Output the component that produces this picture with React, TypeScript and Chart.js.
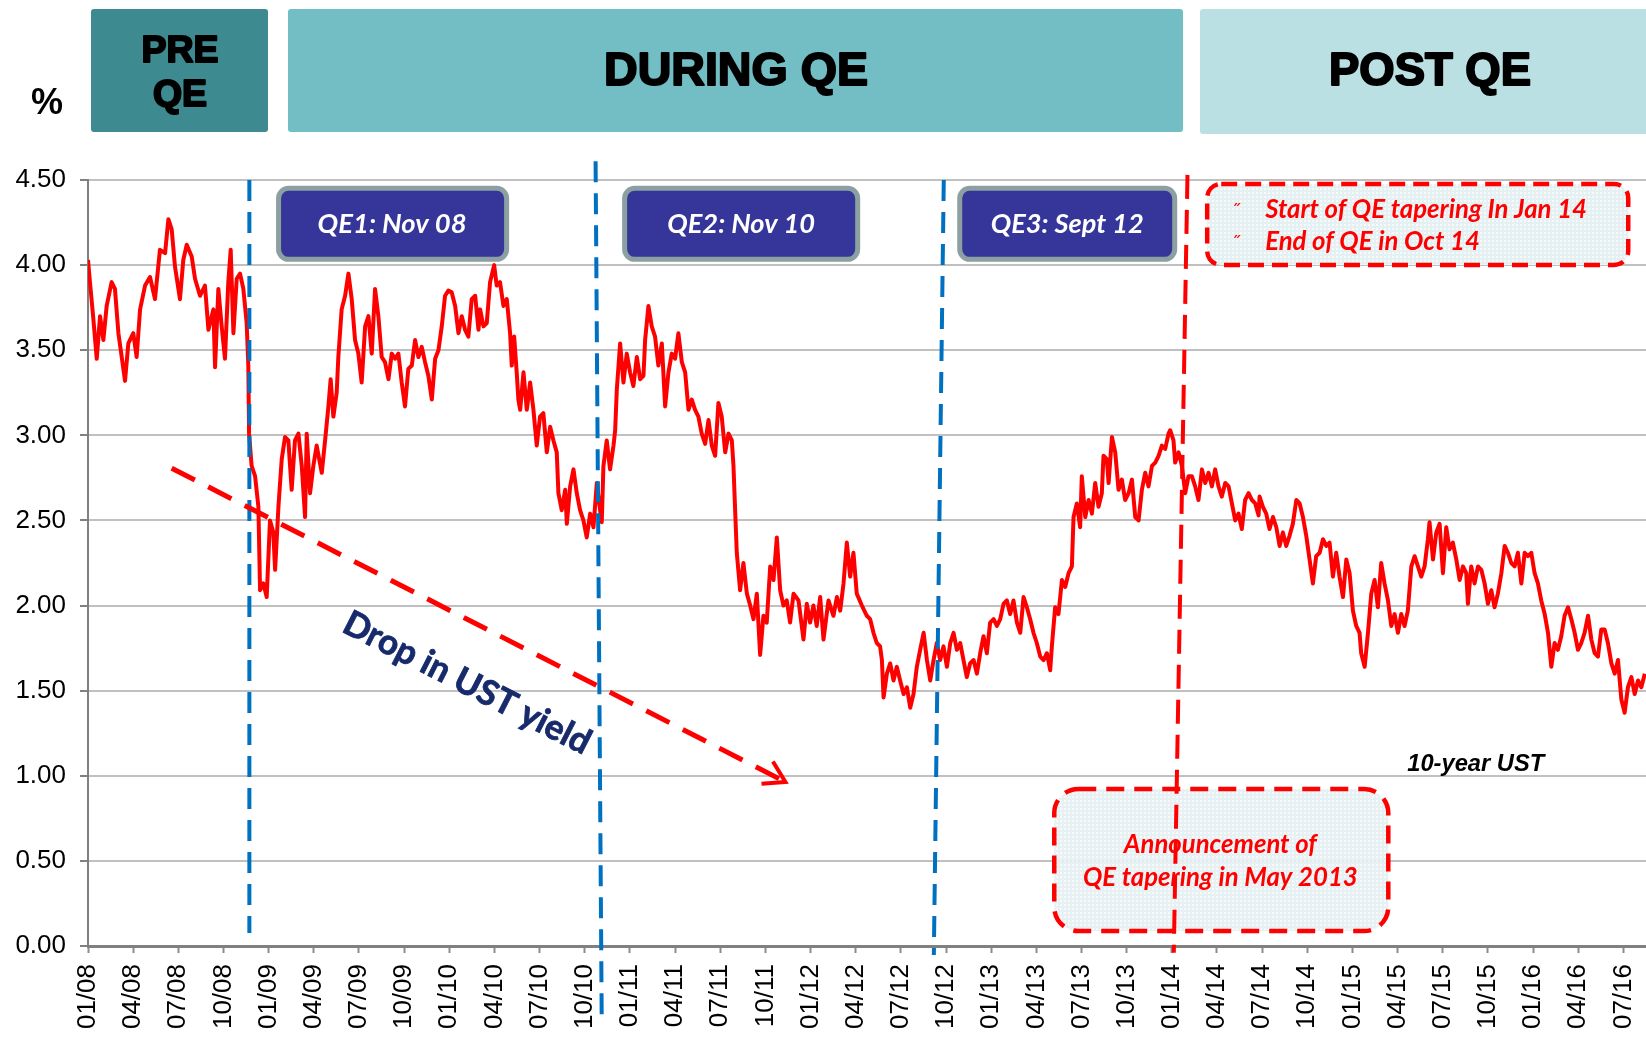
import { useEffect, useRef } from 'react';
import { Chart, registerables } from 'chart.js';

Chart.register(...registerables);

// ---------- data ----------
// x = months since Jan 2008, y = 10-year UST yield (%)
const ustJan08Feb10: number[][] = [
  [0.00,4.03],[0.13,3.90],[0.35,3.69],[0.58,3.45],[0.80,3.70],[1.02,3.56],[1.24,3.76],[1.57,3.90],[1.79,3.86],[2.02,3.60],
  [2.24,3.46],[2.46,3.32],[2.68,3.54],[3.01,3.60],[3.23,3.46],[3.46,3.74],[3.79,3.88],[4.12,3.93],[4.45,3.80],[4.78,4.09],
  [5.12,4.07],[5.34,4.27],[5.56,4.21],[5.78,3.99],[6.11,3.80],[6.33,4.03],[6.56,4.12],[6.89,4.05],[7.11,3.92],[7.44,3.82],
  [7.77,3.88],[8.00,3.62],[8.33,3.74],[8.44,3.40],[8.66,3.86],[8.88,3.64],[9.10,3.45],[9.32,3.90],[9.48,4.09],[9.66,3.60],
  [9.88,3.92],[10.10,3.95],[10.32,3.86],[10.54,3.66],[10.65,3.41],[10.70,3.01],[10.87,2.82],[11.10,2.76],[11.32,2.58],[11.43,2.09],
  [11.65,2.13],[11.87,2.05],[12.09,2.50],[12.31,2.43],[12.43,2.21],[12.65,2.58],[12.87,2.86],[13.09,2.99],[13.31,2.97],[13.53,2.68],
  [13.75,2.97],[13.98,3.01],[14.20,2.82],[14.42,2.52],[14.53,3.01],[14.75,2.66],[14.97,2.82],[15.19,2.94],[15.53,2.78],[15.75,2.97],
  [15.97,3.17],[16.12,3.33],[16.30,3.11],[16.52,3.25],[16.63,3.46],[16.85,3.74],[17.08,3.82],[17.30,3.95],[17.52,3.80],[17.74,3.56],
  [17.96,3.48],[18.18,3.31],[18.41,3.64],[18.63,3.70],[18.85,3.48],[19.07,3.86],[19.29,3.70],[19.51,3.46],[19.73,3.43],[19.96,3.33],
  [20.18,3.48],[20.40,3.45],[20.62,3.48],[20.84,3.31],[21.06,3.17],[21.28,3.39],[21.51,3.41],[21.73,3.56],[21.95,3.46],[22.17,3.52],
  [22.39,3.43],[22.61,3.35],[22.84,3.21],[23.06,3.45],[23.28,3.50],[23.50,3.64],[23.72,3.82],[23.94,3.85],[24.16,3.84],[24.39,3.76],
  [24.61,3.60],[24.83,3.70],[25.05,3.62],[25.27,3.58],[25.49,3.80],[25.72,3.82],[25.94,3.62],
];

const ustMar10Apr12: number[][] = [
  [26.05,3.74],[26.27,3.64],[26.49,3.66],[26.71,3.90],[26.98,4.00],[27.15,3.88],[27.37,3.90],[27.60,3.76],[27.82,3.80],[28.04,3.60],
  [28.15,3.41],[28.31,3.58],[28.48,3.37],[28.59,3.21],[28.71,3.15],[28.93,3.37],[29.15,3.15],[29.37,3.31],[29.59,3.15],[29.81,2.94],
  [30.03,3.11],[30.25,3.13],[30.48,2.90],[30.70,3.05],[30.92,2.97],[31.14,2.90],[31.25,2.66],[31.47,2.56],[31.70,2.68],[31.81,2.48],
  [32.03,2.70],[32.25,2.80],[32.47,2.66],[32.69,2.56],[32.91,2.50],[33.13,2.40],[33.36,2.54],[33.58,2.46],[33.80,2.72],[34.02,2.56],
  [34.13,2.49],[34.24,2.82],[34.46,2.97],[34.68,2.80],[34.91,2.94],[35.02,3.03],[35.13,3.27],[35.35,3.54],[35.57,3.31],[35.79,3.48],
  [36.01,3.37],[36.23,3.29],[36.46,3.46],[36.68,3.33],[36.90,3.35],[37.01,3.56],[37.23,3.76],[37.45,3.64],[37.67,3.58],[37.89,3.41],
  [38.12,3.54],[38.34,3.17],[38.56,3.37],[38.78,3.48],[39.00,3.45],[39.22,3.60],[39.45,3.43],[39.67,3.37],[39.89,3.15],[40.11,3.21],
  [40.33,3.15],[40.55,3.11],[40.77,3.01],[41.00,2.95],[41.22,3.09],[41.44,2.94],[41.66,2.88],[41.88,3.19],[42.10,3.11],[42.33,2.90],
  [42.55,3.01],[42.77,2.97],[42.88,2.82],[42.99,2.56],[43.10,2.31],[43.32,2.09],[43.54,2.25],[43.77,2.07],[43.99,2.00],[44.21,1.92],
  [44.43,2.07],[44.65,1.71],[44.87,1.94],[45.09,1.90],[45.32,2.23],[45.54,2.15],[45.76,2.40],[45.98,2.09],[46.20,2.00],[46.42,2.03],
  [46.64,1.90],[46.87,2.07],[47.20,2.03],[47.53,1.80],[47.75,2.01],[47.97,1.90],[48.19,2.00],[48.41,1.88],[48.64,2.05],[48.86,1.80],
  [49.19,2.03],[49.52,1.94],[49.75,2.05],[49.97,1.97],[50.19,2.13],[50.41,2.37],[50.63,2.17],[50.85,2.31],[51.07,2.07],[51.41,2.00],
  [51.74,1.94],
];

const ustMay12Jun14: number[][] = [
  [51.96,1.92],[52.18,1.84],[52.40,1.78],[52.62,1.76],[52.74,1.68],[52.85,1.46],[53.07,1.60],[53.29,1.66],[53.51,1.56],[53.73,1.64],
  [53.95,1.56],[54.18,1.48],[54.40,1.52],[54.62,1.40],[54.84,1.48],[55.06,1.64],[55.28,1.74],[55.51,1.84],[55.73,1.68],[55.95,1.56],
  [56.17,1.68],[56.39,1.78],[56.61,1.68],[56.83,1.76],[57.06,1.64],[57.28,1.78],[57.50,1.84],[57.72,1.74],[57.94,1.78],[58.16,1.68],
  [58.38,1.58],[58.60,1.66],[58.83,1.68],[59.05,1.60],[59.27,1.72],[59.49,1.82],[59.71,1.72],[59.93,1.90],[60.16,1.92],[60.38,1.88],
  [60.60,1.92],[60.82,2.01],[61.04,2.03],[61.26,1.95],[61.48,2.03],[61.71,1.90],[61.93,1.84],[62.15,2.05],[62.37,1.99],[62.59,1.92],
  [62.81,1.84],[63.03,1.78],[63.26,1.70],[63.48,1.68],[63.70,1.72],[63.92,1.62],[64.03,1.76],[64.25,1.99],[64.47,1.95],[64.70,2.15],
  [64.92,2.11],[65.14,2.19],[65.36,2.23],[65.47,2.52],[65.69,2.60],[65.91,2.46],[66.02,2.76],[66.25,2.52],[66.47,2.62],[66.69,2.54],
  [66.91,2.72],[67.13,2.58],[67.35,2.66],[67.46,2.88],[67.68,2.86],[67.80,2.72],[68.02,2.99],[68.24,2.90],[68.46,2.68],[68.68,2.74],
  [68.90,2.62],[69.13,2.66],[69.35,2.74],[69.57,2.52],[69.79,2.50],[70.01,2.68],[70.23,2.78],[70.45,2.70],[70.68,2.82],[70.90,2.84],
  [71.12,2.88],[71.34,2.94],[71.56,2.92],[71.78,3.01],[71.89,3.03],[72.11,2.97],[72.22,2.84],[72.45,2.90],[72.67,2.82],[72.89,2.66],
  [73.11,2.76],[73.33,2.76],[73.55,2.70],[73.77,2.62],[74.00,2.80],[74.22,2.72],[74.44,2.78],[74.66,2.70],[74.88,2.80],[75.10,2.70],
  [75.32,2.64],[75.55,2.72],[75.77,2.70],[75.99,2.60],[76.21,2.50],[76.43,2.54],[76.65,2.45],[76.87,2.62],[77.10,2.66],[77.32,2.62],
  [77.54,2.60],[77.76,2.53],
];

const ustJun14Aug16: number[][] = [
  [77.83,2.64],[78.05,2.58],[78.27,2.54],[78.49,2.45],[78.72,2.52],[78.94,2.46],[79.16,2.35],[79.38,2.43],[79.60,2.35],[79.82,2.41],
  [80.04,2.48],[80.27,2.62],[80.49,2.60],[80.71,2.52],[80.93,2.41],[81.15,2.27],[81.37,2.13],[81.59,2.29],[81.82,2.31],[82.04,2.39],
  [82.26,2.35],[82.48,2.37],[82.70,2.17],[82.92,2.31],[83.14,2.17],[83.37,2.05],[83.59,2.27],[83.81,2.19],[84.03,1.97],[84.25,1.88],
  [84.47,1.84],[84.58,1.72],[84.81,1.64],[85.03,1.84],[85.25,2.07],[85.47,2.15],[85.69,1.99],[85.91,2.25],[86.13,2.13],[86.36,2.03],
  [86.58,1.88],[86.80,1.95],[87.02,1.84],[87.24,1.95],[87.46,1.88],[87.68,1.97],[87.91,2.23],[88.13,2.29],[88.35,2.23],[88.57,2.17],
  [88.79,2.23],[89.01,2.39],[89.12,2.49],[89.35,2.27],[89.57,2.43],[89.79,2.48],[90.01,2.19],[90.23,2.46],[90.45,2.33],[90.67,2.37],
  [90.90,2.27],[91.12,2.15],[91.34,2.23],[91.56,2.19],[91.67,2.01],[91.89,2.23],[92.11,2.13],[92.34,2.23],[92.56,2.21],[92.78,2.13],
  [93.00,2.01],[93.22,2.09],[93.44,1.99],[93.66,2.07],[93.89,2.19],[94.11,2.35],[94.33,2.31],[94.55,2.25],[94.77,2.23],[94.99,2.31],
  [95.22,2.13],[95.44,2.31],[95.66,2.29],[95.88,2.31],[96.10,2.19],[96.32,2.13],[96.54,2.03],[96.77,1.95],[96.99,1.84],[97.21,1.64],
  [97.43,1.78],[97.65,1.74],[97.87,1.82],[98.09,1.94],[98.32,1.99],[98.54,1.92],[98.76,1.84],[98.98,1.74],[99.20,1.78],[99.42,1.84],
  [99.65,1.94],[99.87,1.80],[100.09,1.72],[100.31,1.70],[100.53,1.86],[100.75,1.86],[100.97,1.78],[101.20,1.66],[101.42,1.60],[101.64,1.68],
  [101.86,1.45],[102.08,1.37],[102.30,1.52],[102.53,1.58],[102.75,1.48],[102.97,1.56],[103.19,1.52],[103.42,1.60],
];

const xTickLabels = [
  '01/08','04/08','07/08','10/08','01/09','04/09','07/09','10/09','01/10','04/10','07/10','10/10',
  '01/11','04/11','07/11','10/11','01/12','04/12','07/12','10/12','01/13','04/13','07/13','10/13',
  '01/14','04/14','07/14','10/14','01/15','04/15','07/15','10/15','01/16','04/16','07/16',
];

const phaseTitles = [['PRE', 'QE'], ['DURING QE'], ['POST QE']];
const qeLabels = ['QE1: Nov 08', 'QE2: Nov 10', 'QE3: Sept 12'];
const taperNotes = ['Start of QE tapering In Jan 14', 'End of QE in Oct 14'];
const announceNotes = ['Announcement of', 'QE tapering in May 2013'];
const seriesName = '10-year UST';
const dropLabel = 'Drop in UST yield';

// ---------- annotation geometry (data units: months, %) ----------
const qeLines = [
  { top: [10.72, 4.5], bottom: [10.72, 0.076] },
  { top: [33.72, 4.61], bottom: [34.13, -0.464] },
  { top: [56.85, 4.5], bottom: [56.19, -0.053] },
];
const qeBoxes = [
  { m1: 12.66, m2: 27.81, textM: 20.2, width: 149 },
  { m1: 35.65, m2: 51.13, textM: 43.39, width: 148 },
  { m1: 57.91, m2: 72.19, textM: 65.05, width: 153 },
];
const qeBoxTop = 4.451, qeBoxBottom = 4.034, qeTextBase = 4.189;
const taperLine = { top: [73.04, 4.53], bottom: [72.13, -0.04] };
const arrow = { from: [5.56, 2.807], to: [46.33, 0.964] };
const dropText = { m: 25.18, v: 1.545, width: 273 };
const taperBox = { m1: 74.35, m2: 102.32, vTop: 4.477, vBot: 4.001, textM: 78.2, bulletM: 76.0, base: [4.277, 4.089], width: 322 };
const announceBox = { m1: 64.19, m2: 86.38, vTop: 0.922, vBot: 0.088, textM: 75.22, base: [0.546, 0.353], width: 275 };
const seriesLabel = { m: 87.64, v: 1.028, width: 137 };

const SANS = "'Liberation Sans', Arial, sans-serif";
const CAL = "Lato, 'Open Sans', sans-serif";

function rr(ctx: CanvasRenderingContext2D, x: number, y: number, w: number, h: number, r: number) {
  ctx.beginPath();
  ctx.moveTo(x + r, y);
  ctx.lineTo(x + w - r, y);
  ctx.arcTo(x + w, y, x + w, y + r, r);
  ctx.lineTo(x + w, y + h - r);
  ctx.arcTo(x + w, y + h, x + w - r, y + h, r);
  ctx.lineTo(x + r, y + h);
  ctx.arcTo(x, y + h, x, y + h - r, r);
  ctx.lineTo(x, y + r);
  ctx.arcTo(x, y, x + r, y, r);
  ctx.closePath();
}

function fitFont(ctx: CanvasRenderingContext2D, text: string, prefix: string, family: string, target: number) {
  ctx.font = `${prefix} 40px ${family}`;
  const w = ctx.measureText(text).width || 1;
  const size = (40 * target) / w;
  ctx.font = `${prefix} ${size}px ${family}`;
  return size;
}

function dotPattern(ctx: CanvasRenderingContext2D) {
  const c = document.createElement('canvas');
  c.width = 4; c.height = 4;
  const g = c.getContext('2d')!;
  g.fillStyle = '#E4F0F2';
  g.fillRect(0, 0, 4, 4);
  g.fillStyle = '#F6FAFB';
  g.fillRect(0, 0, 2, 2);
  return ctx.createPattern(c, 'repeat') || '#EAF4F5';
}

const overlayPlugin = {
  id: 'qeOverlay',
  beforeDraw(chart: any) {
    const ctx: CanvasRenderingContext2D = chart.ctx;
    ctx.save();
    ctx.fillStyle = '#ffffff';
    ctx.fillRect(0, 0, chart.width, chart.height);
    ctx.restore();
  },
  afterDatasetsDraw(chart: any) {
    const ctx: CanvasRenderingContext2D = chart.ctx;
    const xs = chart.scales.x, ys = chart.scales.y;
    const px = (m: number) => xs.getPixelForValue(m);
    const py = (v: number) => ys.getPixelForValue(v);
    ctx.save();

    // blue QE lines
    ctx.strokeStyle = '#0070C0';
    ctx.lineWidth = 4;
    ctx.setLineDash([21, 11]);
    qeLines.forEach((l) => {
      ctx.beginPath();
      ctx.moveTo(px(l.top[0]), py(l.top[1]));
      ctx.lineTo(px(l.bottom[0]), py(l.bottom[1]));
      ctx.stroke();
    });

    // red dashed arrow
    const ax1 = px(arrow.from[0]), ay1 = py(arrow.from[1]);
    const ax2 = px(arrow.to[0]), ay2 = py(arrow.to[1]);
    const th = Math.atan2(ay2 - ay1, ax2 - ax1);
    ctx.strokeStyle = '#FF0000';
    ctx.lineWidth = 5;
    ctx.setLineDash([26, 15]);
    ctx.beginPath();
    ctx.moveTo(ax1, ay1);
    ctx.lineTo(ax2 - 4 * Math.cos(th), ay2 - 4 * Math.sin(th));
    ctx.stroke();
    ctx.setLineDash([]);
    ctx.lineWidth = 4;
    ctx.beginPath();
    ctx.moveTo(ax2 - 24 * Math.cos(th - 0.55), ay2 - 24 * Math.sin(th - 0.55));
    ctx.lineTo(ax2, ay2);
    ctx.lineTo(ax2 - 24 * Math.cos(th + 0.55), ay2 - 24 * Math.sin(th + 0.55));
    ctx.stroke();

    // drop text
    ctx.save();
    ctx.translate(px(dropText.m), py(dropText.v));
    ctx.rotate(th);
    ctx.fillStyle = '#172A6B';
    ctx.strokeStyle = '#172A6B';
    ctx.lineWidth = 0.8;
    ctx.textAlign = 'center';
    ctx.textBaseline = 'middle';
    fitFont(ctx, dropLabel, 'bold', CAL, dropText.width);
    ctx.fillText(dropLabel, 0, 0);
    ctx.strokeText(dropLabel, 0, 0);
    ctx.restore();

    // QE boxes
    qeBoxes.forEach((b, i) => {
      const x1 = px(b.m1), x2 = px(b.m2), y1 = py(qeBoxTop), y2 = py(qeBoxBottom);
      rr(ctx, x1, y1, x2 - x1, y2 - y1, 10);
      ctx.fillStyle = '#35359A';
      ctx.fill();
      ctx.lineWidth = 5;
      ctx.strokeStyle = '#8C9FA1';
      ctx.stroke();
      ctx.fillStyle = '#FFFFFF';
      ctx.textAlign = 'center';
      ctx.textBaseline = 'alphabetic';
      fitFont(ctx, qeLabels[i], 'italic bold', CAL, b.width);
      ctx.fillText(qeLabels[i], px(b.textM), py(qeTextBase));
    });

    const pat = dotPattern(ctx);

    // taper box (top right)
    {
      const b = taperBox;
      const x1 = px(b.m1), x2 = px(b.m2), y1 = py(b.vTop), y2 = py(b.vBot);
      rr(ctx, x1, y1, x2 - x1, y2 - y1, 14);
      ctx.fillStyle = pat as any;
      ctx.fill();
      ctx.setLineDash([16, 8]);
      ctx.lineWidth = 4.5;
      ctx.strokeStyle = '#FF0000';
      ctx.stroke();
      ctx.setLineDash([]);
      ctx.fillStyle = '#FF0000';
      ctx.textAlign = 'left';
      ctx.textBaseline = 'alphabetic';
      const size = fitFont(ctx, taperNotes[0], 'italic bold', CAL, b.width);
      taperNotes.forEach((t, i) => {
        ctx.font = `italic bold ${size}px ${CAL}`;
        ctx.fillText(t, px(b.textM), py(b.base[i]));
        ctx.font = `${size * 0.8}px ${CAL}`;
        ctx.fillText('\u02DD', px(b.bulletM), py(b.base[i]));
      });
    }

    // announcement box
    {
      const b = announceBox;
      const x1 = px(b.m1), x2 = px(b.m2), y1 = py(b.vTop), y2 = py(b.vBot);
      rr(ctx, x1, y1, x2 - x1, y2 - y1, 24);
      ctx.globalAlpha = 0.88;
      ctx.fillStyle = pat as any;
      ctx.fill();
      ctx.globalAlpha = 1;
      ctx.setLineDash([18, 10]);
      ctx.lineWidth = 4.5;
      ctx.strokeStyle = '#FF0000';
      ctx.stroke();
      ctx.setLineDash([]);
      ctx.fillStyle = '#FF0000';
      ctx.textAlign = 'center';
      ctx.textBaseline = 'alphabetic';
      const size = fitFont(ctx, announceNotes[1], 'italic bold', CAL, b.width);
      announceNotes.forEach((t, i) => {
        ctx.font = `italic bold ${size}px ${CAL}`;
        ctx.fillText(t, px(b.textM), py(b.base[i]));
      });
    }

    // red dashed taper line
    ctx.strokeStyle = '#FF0000';
    ctx.lineWidth = 4;
    ctx.setLineDash([24, 11]);
    ctx.beginPath();
    ctx.moveTo(px(taperLine.top[0]), py(taperLine.top[1]));
    ctx.lineTo(px(taperLine.bottom[0]), py(taperLine.bottom[1]));
    ctx.stroke();
    ctx.setLineDash([]);

    // series label
    ctx.fillStyle = '#000000';
    ctx.textAlign = 'left';
    ctx.textBaseline = 'alphabetic';
    fitFont(ctx, seriesName, 'italic bold', SANS, seriesLabel.width);
    ctx.fillText(seriesName, px(seriesLabel.m), py(seriesLabel.v));

    ctx.restore();
  },
  afterDraw(chart: any) {
    const ctx: CanvasRenderingContext2D = chart.ctx;
    ctx.save();
    const boxes = [
      { x: 91, y: 9, w: 177, h: 123, fill: '#3D8A90' },
      { x: 288, y: 9, w: 895, h: 123, fill: '#72BEC4' },
      { x: 1200, y: 9, w: 470, h: 125, fill: '#BBE0E3' },
    ];
    boxes.forEach((b) => {
      rr(ctx, b.x, b.y, b.w, b.h, 3);
      ctx.fillStyle = b.fill;
      ctx.fill();
    });
    ctx.fillStyle = '#000';
    ctx.strokeStyle = '#000';
    ctx.lineWidth = 2;
    ctx.lineJoin = 'round';
    ctx.textAlign = 'center';
    ctx.textBaseline = 'alphabetic';
    const s1 = fitFont(ctx, phaseTitles[0][0], 'bold', SANS, 77);
    ctx.fillText(phaseTitles[0][0], 180, 62);
    ctx.strokeText(phaseTitles[0][0], 180, 62);
    ctx.font = `bold ${s1}px ${SANS}`;
    ctx.fillText(phaseTitles[0][1], 180, 106);
    ctx.strokeText(phaseTitles[0][1], 180, 106);
    fitFont(ctx, phaseTitles[1][0], 'bold', SANS, 264);
    ctx.fillText(phaseTitles[1][0], 736, 85);
    ctx.strokeText(phaseTitles[1][0], 736, 85);
    fitFont(ctx, phaseTitles[2][0], 'bold', SANS, 202);
    ctx.fillText(phaseTitles[2][0], 1430, 85);
    ctx.strokeText(phaseTitles[2][0], 1430, 85);
    ctx.font = `bold 36px ${SANS}`;
    ctx.fillText('%', 47, 114);
    ctx.restore();
  },
};

export default function App() {
  const ref = useRef<HTMLCanvasElement>(null);
  useEffect(() => {
    const canvas = ref.current;
    if (!canvas) return;
    const points = [...ustJan08Feb10, ...ustMar10Apr12, ...ustMay12Jun14, ...ustJun14Aug16].map(([x, y]) => ({ x, y }));
    const chart = new Chart(canvas, {
      type: 'line',
      data: {
        datasets: [
          {
            label: seriesName,
            data: points,
            borderColor: '#FF0000',
            backgroundColor: '#FF0000',
            borderWidth: 4,
            borderJoinStyle: 'round',
            pointRadius: 0,
            tension: 0,
          },
        ],
      },
      options: {
        animation: false,
        responsive: false,
        devicePixelRatio: 1,
        layout: { padding: { top: 180, left: 0, right: 0, bottom: 0 } },
        plugins: { legend: { display: false }, tooltip: { enabled: false } },
        scales: {
          x: {
            type: 'linear',
            min: 0,
            max: 103.5,
            afterFit: (s: any) => {
              s.height = 94;
              s.paddingLeft = 0;
              s.paddingRight = 0;
            },
            ticks: {
              stepSize: 3,
              autoSkip: false,
              maxRotation: 90,
              minRotation: 90,
              includeBounds: false,
              padding: 11,
              color: '#000',
              font: { family: SANS, size: 26 },
              callback: (v: any) => xTickLabels[Math.round(Number(v) / 3)] ?? '',
            },
            grid: { drawOnChartArea: false, drawTicks: true, tickLength: 7, tickColor: '#8C8C8C', tickWidth: 2 },
            border: { display: true, color: '#808080', width: 3 },
          },
          y: {
            min: 0,
            max: 4.5,
            afterFit: (s: any) => {
              s.width = 88;
              s.paddingTop = 0;
              s.paddingBottom = 0;
            },
            ticks: {
              stepSize: 0.5,
              padding: 14,
              color: '#000',
              font: { family: SANS, size: 26 },
              callback: (v: any) => Number(v).toFixed(2),
            },
            grid: { color: '#C0C0C0', lineWidth: 2, tickLength: 8, tickColor: '#808080' },
            border: { display: true, color: '#808080', width: 2 },
          },
        },
      } as any,
      plugins: [overlayPlugin as any],
    });
    return () => chart.destroy();
  }, []);
  return (
    <div style={{ position: 'absolute', left: 0, top: 0, width: 1646, height: 1040, background: '#fff' }}>
      <canvas ref={ref} width={1646} height={1040} style={{ display: 'block', width: 1646, height: 1040 }} />
    </div>
  );
}
